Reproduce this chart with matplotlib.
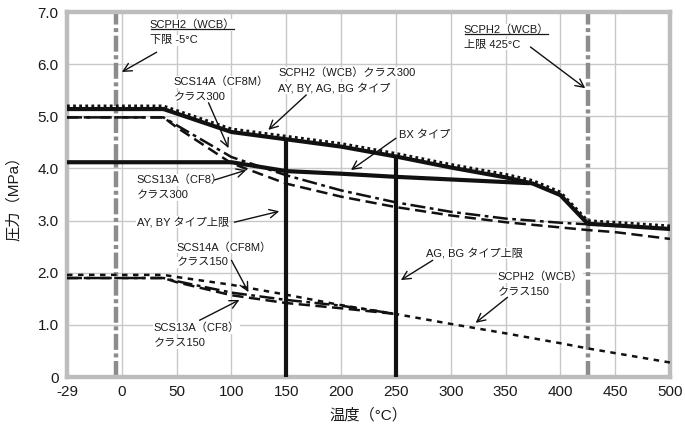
import matplotlib
matplotlib.use("Agg")
import matplotlib.pyplot as plt
from matplotlib.lines import Line2D
import numpy as np

plt.rcParams['font.family'] = ['Liberation Sans', 'Noto Sans CJK JP', 'DejaVu Sans']

# 温度(°C) と圧力(MPa)
t_wcb300 = [-29, 38, 100, 150, 200, 250, 300, 350, 375, 400, 425, 450, 500]
p_wcb300 = [5.14, 5.14, 4.70, 4.56, 4.42, 4.23, 4.02, 3.83, 3.71, 3.49, 2.94, 2.91, 2.84]

t_bx = [-29, 100, 150, 200, 250, 300, 370]
p_bx = [4.12, 4.12, 3.95, 3.90, 3.84, 3.79, 3.72]

t_ss300 = [-29, 38, 50, 100, 150, 200, 250, 300, 350, 400, 425, 450, 500]
p_cf8m300 = [4.98, 4.98, 4.83, 4.22, 3.87, 3.58, 3.35, 3.17, 3.04, 2.96, 2.93, 2.90, 2.84]
p_cf8300 = [4.98, 4.98, 4.79, 4.10, 3.71, 3.46, 3.26, 3.10, 2.97, 2.87, 2.82, 2.78, 2.65]

t_wcb150 = [-29, 38, 50, 100, 150, 200, 250, 300, 350, 400, 425, 450, 500]
p_wcb150 = [1.96, 1.96, 1.92, 1.77, 1.58, 1.38, 1.21, 1.02, 0.84, 0.65, 0.55, 0.46, 0.28]

t_ss150 = [-29, 38, 50, 100, 150, 200, 250]
p_cf8m150 = [1.90, 1.90, 1.84, 1.62, 1.48, 1.37, 1.21]
p_cf8150 = [1.90, 1.90, 1.82, 1.57, 1.42, 1.32, 1.21]

# タイプ上限 (温度, 圧力上端)
t_type_lim = [150, 250]
p_type_lim = [4.56, 4.23]

# SCPH2(WCB) 使用温度範囲
t_wcb_lim = [-5, 425]

x_ticks = [-29, 0, 50, 100, 150, 200, 250, 300, 350, 400, 450, 500]
y_ticks = [0, 1, 2, 3, 4, 5, 6, 7]
y_labels = ["0", "1.0", "2.0", "3.0", "4.0", "5.0", "6.0", "7.0"]


def to_pos(t):
    # -29 の目盛は 50°C 間隔の位置に置かれている
    return np.interp(t, [-29, -5, 500], [-50, -5, 500])


fig = plt.figure(figsize=(6.85, 4.30), dpi=100)
ax = fig.add_axes([0.0978, 0.123, 0.8803, 0.849])

gray = '#8c8c8c'
for t in t_wcb_lim:
    ax.plot(to_pos([t, t]), [0, 7], color=gray, lw=3.2,
            dashes=(3.6, 0.8, 0.9, 0.8), solid_capstyle='butt', zorder=2)

ax.plot(to_pos(t_ss300), p_cf8m300, color='#111111', lw=1.8,
        dashes=(6, 1.8, 1.5, 1.8), zorder=3)
ax.plot(to_pos(t_ss300), p_cf8300, color='#111111', lw=1.8,
        dashes=(4.5, 2.2), zorder=3)
ax.plot(to_pos(t_ss150), p_cf8m150, color='#111111', lw=1.8,
        dashes=(6, 1.8, 1.5, 1.8), zorder=3)
ax.plot(to_pos(t_ss150), p_cf8150, color='#111111', lw=1.8,
        dashes=(4.5, 2.2), zorder=3)
ax.plot(to_pos(t_wcb150), p_wcb150, color='#111111', lw=1.8,
        dashes=(2.2, 2.2), zorder=3)

ax.plot(to_pos(t_bx), p_bx, color='#111111', lw=3.0, zorder=4)
ax.plot(to_pos(t_wcb300), p_wcb300, color='#111111', lw=3.0, zorder=4)
ax.plot(to_pos(t_wcb300), np.array(p_wcb300) + 0.06, color='#111111', lw=2.0,
        dashes=(1.0, 1.2), zorder=4)
for t, p in zip(t_type_lim, p_type_lim):
    ax.plot(to_pos([t, t]), [0, p], color='#111111', lw=3.0,
            solid_capstyle='butt', zorder=4)

ax.set_xlim(-50, 500)
ax.set_ylim(0, 7)
ax.set_xticks(to_pos(x_ticks))
ax.set_xticklabels([str(v) for v in x_ticks])
ax.set_yticks(y_ticks)
ax.set_yticklabels(y_labels)
ax.tick_params(length=0, labelsize=11, pad=6, colors='#1a1a1a')
ax.grid(True, color='#c8c8c8', lw=1.0)
ax.set_axisbelow(True)
for s in ax.spines.values():
    s.set_color('#bdbdbd')
    s.set_linewidth(3.2)

ax.set_xlabel("温度（°C）", fontsize=11, labelpad=6, color='#1a1a1a')
ax.set_ylabel("圧力（MPa）", fontsize=11, labelpad=12, color='#1a1a1a')

fs = 8
arrow = dict(arrowstyle='->,head_length=0.6,head_width=0.3', color='#111111',
             lw=1.0, shrinkA=0, shrinkB=0)
underlined = []

def note(x, y, lines, xy=None, xytext=None, underline=False):
    step = 0.29
    for i, line in enumerate(lines):
        t = ax.text(x, y - i * step, line, fontsize=fs, ha='left', va='center',
                    color='#1a1a1a', zorder=6,
                    bbox=dict(facecolor='white', edgecolor='none', pad=0.3))
        if underline and i == 0:
            underlined.append(t)
    if xy is not None:
        ax.annotate("", xy=xy, xytext=xytext, arrowprops=arrow, zorder=6)

note(25.5, 6.75, ["SCPH2（WCB）", "下限 -5°C"], (0, 5.85), (31.8, 6.23), True)
note(311.8, 6.66, ["SCPH2（WCB）", "上限 425°C"], (422.7, 5.54), (372.7, 6.33), True)
note(47.3, 5.66, ["SCS14A（CF8M）", "クラス300"], (97.3, 4.39), (79.1, 5.26))
note(142.7, 5.83, ["SCPH2（WCB）クラス300", "AY, BY, AG, BG タイプ"], (133.6, 4.74), (168.2, 5.41))
note(252.7, 4.64, ["BX タイプ"], (209, 3.97), (250, 4.58))
note(13.6, 3.78, ["SCS13A（CF8）", "クラス300"], (113.6, 3.97), (84.5, 3.78))
note(13.6, 2.97, ["AY, BY タイプ上限"], (143.6, 3.18), (102.7, 2.97))
note(50, 2.49, ["SCS14A（CF8M）", "クラス150"], (115.5, 1.63), (100, 2.24))
note(29, 0.94, ["SCS13A（CF8）", "クラス150"], (107.3, 1.48), (70.9, 1.09))
note(277.3, 2.38, ["AG, BG タイプ上限"], (254.5, 1.86), (283.6, 2.24))
note(342.7, 1.92, ["SCPH2（WCB）", "クラス150"], (322.7, 1.04), (351.8, 1.53))

fig.canvas.draw()
r = fig.canvas.get_renderer()
for t in underlined:
    bb = t.get_window_extent(renderer=r)
    yy = bb.y0 + 1
    fig.add_artist(Line2D([bb.x0 + 1, bb.x1 - 1], [yy, yy],
                          transform=None, color='#1a1a1a', lw=0.9, zorder=7))

fig.savefig("out.png", dpi=100)
